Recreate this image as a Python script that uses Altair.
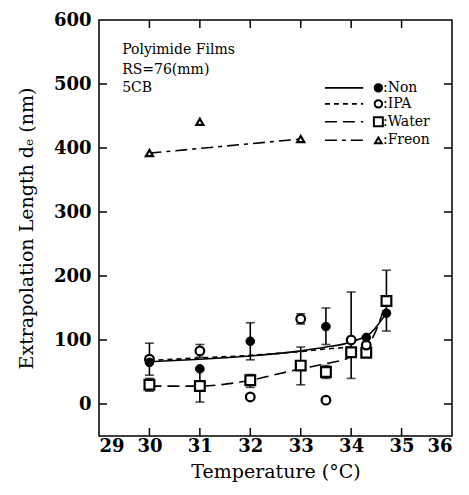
import altair as alt
import pandas as pd

FONT = "DejaVu Serif"

# ---- data ----
non_x = [30, 31, 32, 33.5, 34.3, 34.7]
non_y = [65, 55, 98, 121, 104, 142]
ipa_x = [30, 31, 32, 33, 33.5, 34, 34.3]
ipa_y = [70, 83, 11, 133, 6, 100, 92]
water_x = [30, 31, 32, 33, 33.5, 34, 34.3, 34.7]
water_y = [30, 28, 37, 60, 50, 81, 80, 161]
freon_x = [30, 31, 33]
freon_y = [392, 441, 414]

# error bars
err_x = [30, 30, 31, 31, 32, 32, 33, 33, 33.5, 33.5, 34, 34.7]
err_lo = [45, 20, 73, 3, 69, 26, 30, 125, 93, 40, 40, 114]
err_hi = [95, 40, 93, 53, 127, 46, 89, 141, 150, 60, 175, 209]

# fitted curves
non_fit_x = [30, 31, 32, 33, 33.5, 34, 34.4, 34.7]
non_fit_y = [66, 70, 75, 83, 89, 97, 112, 142]
ipa_fit_x = [30, 31, 32, 33, 33.5, 34]
ipa_fit_y = [68, 72, 76, 82, 86, 89]
water_fit_x = [30, 31, 31.5, 32, 32.5, 33, 33.5, 34, 34.4, 34.7]
water_fit_y = [28, 28, 31, 37, 46, 55, 63, 74, 100, 160]
freon_fit_x = [30, 33]
freon_fit_y = [392, 414]

x_ticks = [29, 30, 31, 32, 33, 34, 35, 36]
y_ticks = [0, 100, 200, 300, 400, 500, 600]
x_inner_ticks = [30, 31, 32, 33, 34, 35]
y_inner_ticks = [0, 100, 200, 300, 400, 500]

legend_labels = [":Non", ":IPA", ":Water", ":Freon"]
legend_y = [494, 469, 441, 412]
annot_lines = ["Polyimide Films", "RS=76(mm)", "5CB"]
annot_y = [553, 522, 494]

W, H = 353, 416

xs = alt.Scale(domain=[29, 36], nice=False, zero=False)
ys = alt.Scale(domain=[-50, 600], nice=False, zero=False)

X = lambda f="x": alt.X(f"{f}:Q", scale=xs, title="Temperature (°C)",
                        axis=alt.Axis(values=x_ticks, format="d"))
Y = lambda f="y": alt.Y(f"{f}:Q", scale=ys, title="Extrapolation Length dₑ (nm)",
                        axis=alt.Axis(values=y_ticks, format="d"))

def df(x, y):
    return pd.DataFrame({"x": x, "y": y})

def curve(x, y, dash):
    kw = dict(color="black", strokeWidth=1.6, interpolate="monotone")
    if dash:
        kw["strokeDash"] = dash
    return alt.Chart(df(x, y)).mark_line(**kw).encode(x=X(), y=Y())

layers = []
# curves
layers.append(curve(non_fit_x, non_fit_y, None))
layers.append(curve(ipa_fit_x, ipa_fit_y, [5, 4]))
layers.append(curve(water_fit_x, water_fit_y, [12, 6]))
layers.append(curve(freon_fit_x, freon_fit_y, [12, 5, 4, 5]))

# error bars
err_df = pd.DataFrame({"x": err_x, "lo": err_lo, "hi": err_hi})
layers.append(alt.Chart(err_df).mark_rule(color="black", strokeWidth=1.6).encode(
    x=X(), y=Y("lo"), y2="hi:Q"))
layers.append(alt.Chart(err_df).mark_tick(color="black", thickness=1.6, size=9, orient="horizontal").encode(
    x=X(), y=Y("lo")))
layers.append(alt.Chart(err_df).mark_tick(color="black", thickness=1.6, size=9, orient="horizontal").encode(
    x=X(), y=Y("hi")))

# points
layers.append(alt.Chart(df(water_x, water_y)).mark_point(
    shape="square", size=95, filled=True, fill="white", stroke="black", strokeWidth=2.2, opacity=1
).encode(x=X(), y=Y()))
layers.append(alt.Chart(df(ipa_x, ipa_y)).mark_point(
    shape="circle", size=75, filled=True, fill="white", stroke="black", strokeWidth=2.2, opacity=1
).encode(x=X(), y=Y()))
layers.append(alt.Chart(df(non_x, non_y)).mark_point(
    shape="circle", size=75, filled=True, fill="black", stroke="black", strokeWidth=1, opacity=1
).encode(x=X(), y=Y()))
layers.append(alt.Chart(df(freon_x, freon_y)).mark_point(
    shape="triangle-up", size=50, filled=True, fill="white", stroke="black", strokeWidth=2.2, opacity=1
).encode(x=X(), y=Y()))

# inward ticks
xt = pd.DataFrame({"x": x_inner_ticks})
yt = pd.DataFrame({"y": y_inner_ticks})
layers.append(alt.Chart(xt).mark_rule(color="black", strokeWidth=1.5).encode(
    x=X(), y=alt.value(H), y2=alt.value(H - 8)))
layers.append(alt.Chart(xt).mark_rule(color="black", strokeWidth=1.5).encode(
    x=X(), y=alt.value(0), y2=alt.value(8)))
layers.append(alt.Chart(yt).mark_rule(color="black", strokeWidth=1.5).encode(
    y=Y(), x=alt.value(0), x2=alt.value(8)))
layers.append(alt.Chart(yt).mark_rule(color="black", strokeWidth=1.5).encode(
    y=Y(), x=alt.value(W), x2=alt.value(W - 8)))

# legend
leg = pd.DataFrame({"label": legend_labels, "y": legend_y,
                    "x0": [33.48] * 4, "x1": [34.24] * 4,
                    "mx": [34.54] * 4, "tx": [34.63] * 4})
dashes = [None, [5, 4], [12, 6], [12, 5, 4, 5]]
for i in range(4):
    row = leg.iloc[[i]]
    kw = dict(color="black", strokeWidth=1.6)
    if dashes[i]:
        kw["strokeDash"] = dashes[i]
    layers.append(alt.Chart(row).mark_rule(**kw).encode(x=X("x0"), x2="x1:Q", y=Y()))
shapes = ["circle", "circle", "square", "triangle-up"]
fills = ["black", "white", "white", "white"]
sizes = [55, 55, 80, 45]
for i in range(4):
    row = leg.iloc[[i]]
    layers.append(alt.Chart(row).mark_point(
        shape=shapes[i], size=sizes[i], filled=True, fill=fills[i], stroke="black",
        strokeWidth=2, opacity=1).encode(x=X("mx"), y=Y()))
layers.append(alt.Chart(leg).mark_text(
    align="left", baseline="middle", font=FONT, fontSize=14, color="black"
).encode(x=X("tx"), y=Y(), text="label:N"))

# annotation
ann = pd.DataFrame({"t": annot_lines, "y": annot_y, "x": [29.46] * 3})
layers.append(alt.Chart(ann).mark_text(
    align="left", baseline="middle", font=FONT, fontSize=14, color="black"
).encode(x=X(), y=Y(), text="t:N"))

chart = alt.layer(*layers).properties(
    width=W, height=H,
    autosize=alt.AutoSizeParams(type="none"),
    padding={"left": 91, "top": 12, "right": 8, "bottom": 55},
).configure_view(stroke="black", strokeWidth=1.5).configure_axis(
    domain=False, ticks=False, grid=False,
    labelFont=FONT, labelFontSize=18, labelFontWeight="bold", labelColor="black",
    titleFont=FONT, titleFontSize=19, titleFontWeight="normal", titleColor="black",
).configure_axisX(labelPadding=1, titlePadding=7).configure_axisY(labelPadding=8, titlePadding=17)

chart.save("out.html", embed_options={"renderer": "svg", "actions": False})
